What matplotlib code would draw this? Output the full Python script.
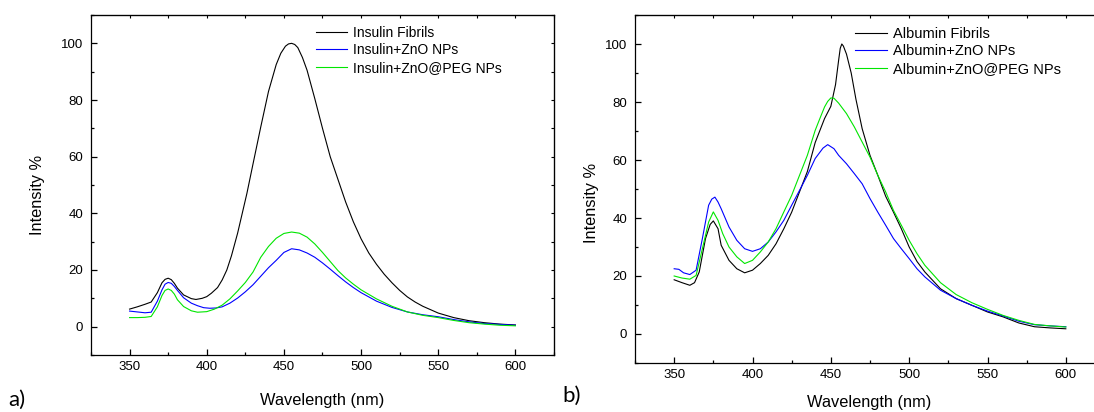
import matplotlib
matplotlib.use("Agg")
import matplotlib.pyplot as plt
from matplotlib.ticker import MultipleLocator

# ---------------- data ----------------
# Panel a) Insulin
ins_fib_wl = [350,355,360,364,368,371,373,375,377,379,381,385,390,393,397,400,403,407,410,413,416,420,423,426,430,435,440,445,448,451,453,455,457,459,462,465,470,475,480,485,490,495,500,505,510,515,520,525,530,535,540,550,560,570,580,590,600]
ins_fib = [6.2,7.0,7.9,8.7,12,15.5,16.7,17.1,16.6,15.3,13.6,11.2,9.9,9.6,10.0,10.6,11.8,13.8,16.5,20,25,33,40,47,57.5,70.5,83,92.5,96.5,99,99.8,100,99.6,98.5,95,90.5,80.5,70,60,52,44,37,31,26,22,18.5,15.5,12.8,10.5,8.7,7.2,4.8,3.2,2.1,1.4,0.9,0.6]

ins_zno_wl = [350,355,360,364,368,371,373,375,377,379,381,385,390,394,398,402,406,410,415,420,425,430,435,440,445,450,455,460,465,470,475,480,485,490,495,500,510,520,530,540,550,560,570,580,590,600]
ins_zno = [5.5,5.2,4.9,5.1,9,13,15,15.6,15.3,14.2,12.8,10.2,8.3,7.4,6.7,6.5,6.6,7.0,8.3,10.1,12.3,14.8,17.8,20.8,23.4,26.2,27.5,27.1,26,24.5,22.5,20.3,18,15.8,13.8,12,9,6.8,5.2,4.2,3.5,2.5,1.7,1.1,0.8,0.5]

ins_peg_wl = [350,355,360,364,368,371,373,375,377,379,381,385,390,394,400,405,410,415,420,425,430,435,440,445,450,455,460,465,470,475,480,485,490,495,500,510,520,530,540,550,560,570,580,590,600]
ins_peg = [3.2,3.2,3.3,3.6,7,11,12.8,13.3,12.8,11.5,9.5,7.1,5.6,5.1,5.3,6.2,7.6,9.8,12.6,15.6,19.3,24.5,28.3,31.2,32.9,33.4,33,31.6,29.2,26.2,23,19.8,17.2,15,13,9.8,7.2,5.2,4,3.2,2.2,1.4,0.9,0.5,0.3]

# Panel b) Albumin
alb_fib_wl = [350,355,360,363,366,370,373,375,378,380,385,390,395,400,405,410,415,420,425,430,435,440,446,450,453,455,456,457,458,460,463,466,470,475,480,485,490,495,500,505,510,520,530,540,550,560,570,580,590,600]
alb_fib = [18.7,17.7,16.8,17.7,21.4,32.9,37.8,39,36.3,30.6,25.4,22.5,21.1,22,24.3,27.1,31.1,36.3,42,49,56,66,74.3,78.5,86,94.5,98.5,100,99.3,96.5,90,81,70.8,61.6,54.7,47.5,42,36.3,30,25,21.4,15.6,12.2,9.9,7.6,5.9,3.8,2.5,2.1,1.8]

alb_zno_wl = [350,353,356,360,364,368,372,374,376,378,380,385,390,395,400,405,410,415,420,425,430,435,440,445,448,452,455,460,465,470,475,480,485,490,495,500,505,510,520,530,540,550,560,570,580,590,600]
alb_zno = [22.5,22.3,21.1,20.5,22,32.9,44.4,46.5,47.2,45.5,43.2,36.9,32.3,29.4,28.5,29.4,31.7,35.2,39.2,44.4,49.5,54.7,60.5,64.1,65.3,63.9,61.6,58.7,55.3,51.8,46.7,42,37.5,32.9,29.4,26,22.5,19.7,15.1,12.2,9.9,7.9,6.2,4.4,3.2,2.8,2.5]

alb_peg_wl = [350,355,360,364,368,372,375,378,381,385,390,395,400,405,410,415,420,425,430,435,440,443,446,448,450,452,455,460,465,470,475,480,485,490,495,500,505,510,520,530,540,550,560,570,580,590,600]
alb_peg = [20,19.3,18.9,20.2,29.4,38.6,42.1,39.2,34.6,30,26.6,24.3,25.4,28.3,31.7,36.3,42.1,47.8,54.7,61.6,70.2,74.3,78.3,80.2,81.4,81.3,79.6,76,71.4,66.2,61,54.7,49,42.6,37.5,32.3,27.7,23.7,17.7,13.6,10.8,8.5,6.4,4.7,3.3,2.8,2.4]

labels_a = ["Insulin Fibrils", "Insulin+ZnO NPs", "Insulin+ZnO@PEG NPs"]
labels_b = ["Albumin Fibrils", "Albumin+ZnO NPs", "Albumin+ZnO@PEG NPs"]
colors = ["#000000", "#0000ff", "#00e600"]

# ---------------- figure ----------------
plt.rcParams['font.family'] = ['Liberation Sans', 'DejaVu Sans']
fig = plt.figure(figsize=(10.94, 4.12), dpi=100)
W, H = 1094, 412

def px_axes(l, t, r, b):
    return fig.add_axes([l / W, (H - b) / H, (r - l) / W, (b - t) / H])

ax1 = px_axes(91, 15, 554, 355)
ax2 = px_axes(635, 15, 1105, 363)

series = [
    (ax1, [(ins_fib_wl, ins_fib), (ins_zno_wl, ins_zno), (ins_peg_wl, ins_peg)], labels_a),
    (ax2, [(alb_fib_wl, alb_fib), (alb_zno_wl, alb_zno), (alb_peg_wl, alb_peg)], labels_b),
]

for ax, data, labs in series:
    for (x, y), c, lab in zip(data, colors, labs):
        ax.plot(x, y, color=c, lw=0.8, label=lab)
    ax.set_xlim(325, 625)
    ax.set_ylim(-10, 110)
    ax.xaxis.set_major_locator(MultipleLocator(50))
    ax.xaxis.set_minor_locator(MultipleLocator(25))
    ax.yaxis.set_major_locator(MultipleLocator(20))
    ax.yaxis.set_minor_locator(MultipleLocator(10))
    ax.tick_params(which='both', direction='in', labelsize=9.5, width=0.9)
    ax.tick_params(which='major', length=4)
    ax.tick_params(which='minor', length=2)
    ax.tick_params(axis='x', pad=4.5)
    ax.tick_params(axis='y', pad=5.5)
    for s in ax.spines.values():
        s.set_linewidth(0.9)
    sx = ax.secondary_xaxis('top')
    sx.xaxis.set_major_locator(MultipleLocator(50))
    sx.xaxis.set_minor_locator(MultipleLocator(25))
    sx.tick_params(which='both', direction='in', length=2, width=0.8, labeltop=False)
    sy = ax.secondary_yaxis('right')
    sy.yaxis.set_major_locator(MultipleLocator(20))
    sy.yaxis.set_minor_locator(MultipleLocator(10))
    sy.tick_params(which='both', direction='in', length=2, width=0.8, labelright=False)
    ax.set_xlabel("Wavelength (nm)", fontsize=11.8)
    ax.set_ylabel("Intensity %", fontsize=11.8)

ax1.xaxis.set_label_coords(0.5, -0.112)
ax2.xaxis.set_label_coords(0.498, -0.091)
ax1.yaxis.set_label_coords(-0.0993, 0.47)
ax2.yaxis.set_label_coords(-0.0774, 0.46)

ax1.legend(loc='upper left', bbox_to_anchor=(0.487, 0.9685), frameon=False,
           fontsize=10, handlelength=2.2, handletextpad=0.45, labelspacing=0.25,
           borderpad=0, borderaxespad=0)
ax2.legend(loc='upper left', bbox_to_anchor=(0.469, 0.966), frameon=False,
           fontsize=10.5, handlelength=2.15, handletextpad=0.4, labelspacing=0.25,
           borderpad=0, borderaxespad=0)

fig.text(8 / W, 1 - 400 / H, "a)", fontsize=16, family=['Lato', 'DejaVu Sans'], va='center', ha='left')
fig.text(562 / W, 1 - 396 / H, "b)", fontsize=16, family=['Lato', 'DejaVu Sans'], va='center', ha='left')

fig.savefig("out.png", dpi=100)
